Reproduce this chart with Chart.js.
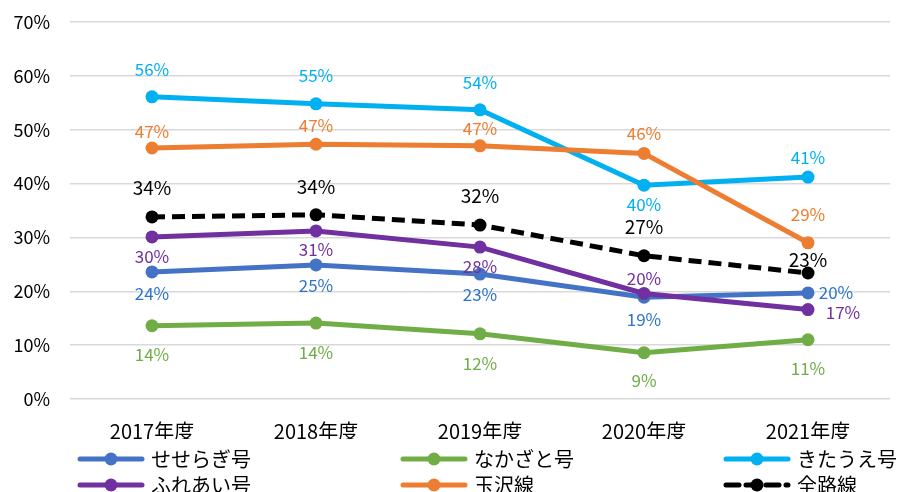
<!DOCTYPE html>
<html>
<head>
<meta charset="utf-8">
<script src="https://cdn.jsdelivr.net/npm/chart.js@4"></script>
<style>
  html, body { margin: 0; padding: 0; background: #fff; }
  #wrap { width: 904px; height: 492px; }
</style>
</head>
<body>
<div id="wrap"><canvas id="lineChart" width="904" height="492"></canvas></div>
<script>
// data (percent)
var years = ['2017年度', '2018年度', '2019年度', '2020年度', '2021年度'];
var seseragi = [23.6, 24.9, 23.2, 18.9, 19.7];
var nakazato = [13.6, 14.1, 12.1, 8.6, 11.0];
var kitaue = [56.1, 54.8, 53.7, 39.7, 41.2];
var fureai = [30.1, 31.2, 28.2, 19.6, 16.6];
var tamazawa = [46.6, 47.3, 47.0, 45.6, 29.0];
var zenrosen = [33.8, 34.2, 32.3, 26.6, 23.4];
var yTicks = [0, 10, 20, 30, 40, 50, 60, 70];

var jpFont = '"Noto Sans CJK JP", "Noto Sans", sans-serif';

// label offsets [dx, dy] from each point
var labelPos = [
  [[0, 22], [0, 21], [0, 20], [0, 22], [28, 0]],
  [[0, 29], [0, 29], [0, 30], [0, 28], [0, 29]],
  [[0, -27], [0, -28], [0, -27], [0, 19], [0, -20]],
  [[0, 20], [0, 19], [0, 19], [0, -15], [35, 3]],
  [[0, -16], [0, -19], [0, -17], [0, -20], [0, -28]],
  [[0, -29], [0, -28], [0, -29], [0, -29], [0, -13]]
];
var labelColors = ['#2E75C6', '#70AD47', '#00B0F0', '#7030A0', '#ED7D31', '#000000'];

function makeSet(label, data, color, idx, dash) {
  return {
    label: label,
    data: data,
    borderColor: color,
    backgroundColor: color,
    borderWidth: 5,
    borderDash: dash || [],
    pointRadius: 6.5,
    pointHoverRadius: 6.5,
    pointBorderWidth: 0,
    tension: 0,
    fill: false,
    order: 6 - idx
  };
}

// data labels
var labelPlugin = {
  id: 'valueLabels',
  afterDatasetsDraw: function(chart) {
    var ctx = chart.ctx;
    ctx.save();
    ctx.textAlign = 'center';
    ctx.textBaseline = 'middle';
    chart.data.datasets.forEach(function(ds, i) {
      var meta = chart.getDatasetMeta(i);
      ctx.fillStyle = labelColors[i];
      ctx.font = (i === 5 ? '19px ' : '17px ') + jpFont;
      meta.data.forEach(function(pt, j) {
        var off = labelPos[i][j];
        ctx.fillText(Math.round(ds.data[j]) + '%', pt.x + off[0], pt.y + off[1]);
      });
    });
    ctx.restore();
  }
};

// legend in 3 columns
var legendPlugin = {
  id: 'gridLegend',
  afterDraw: function(chart) {
    var ctx = chart.ctx;
    var colX = [80, 403, 726];
    var rowY = [459, 485];
    ctx.save();
    ctx.font = '20px ' + jpFont;
    ctx.textBaseline = 'middle';
    chart.data.datasets.forEach(function(ds, i) {
      var x = colX[i % 3];
      var y = rowY[Math.floor(i / 3)];
      ctx.strokeStyle = ds.borderColor;
      ctx.lineWidth = 5;
      ctx.lineCap = 'round';
      ctx.setLineDash(ds.borderDash);
      ctx.beginPath();
      ctx.moveTo(x, y);
      ctx.lineTo(x + 62, y);
      ctx.stroke();
      ctx.setLineDash([]);
      ctx.fillStyle = ds.borderColor;
      ctx.beginPath();
      ctx.arc(x + 31, y, 6.5, 0, Math.PI * 2);
      ctx.fill();
      ctx.fillStyle = '#000';
      ctx.fillText(ds.label, x + 71, y);
    });
    ctx.restore();
  }
};

document.addEventListener('DOMContentLoaded', function() {
  var ctx = document.getElementById('lineChart').getContext('2d');
  new Chart(ctx, {
    type: 'line',
    data: {
      labels: years,
      datasets: [
        makeSet('せせらぎ号', seseragi, '#4472C4', 0),
        makeSet('なかざと号', nakazato, '#70AD47', 1),
        makeSet('きたうえ号', kitaue, '#00B0F0', 2),
        makeSet('ふれあい号', fureai, '#7030A0', 3),
        makeSet('玉沢線', tamazawa, '#ED7D31', 4),
        makeSet('全路線', zenrosen, '#000000', 5, [13, 7])
      ]
    },
    options: {
      responsive: false,
      animation: false,
      layout: { padding: { top: 22, right: 14, bottom: 53, left: 0 } },
      plugins: {
        legend: { display: false },
        tooltip: { enabled: false }
      },
      scales: {
        x: {
          offset: true,
          grid: { display: false, drawTicks: false },
          border: { display: false },
          ticks: { color: '#000', padding: 20, font: { size: 20, family: jpFont } },
          afterFit: function(s) { s.height = 40; }
        },
        y: {
          min: 0,
          max: 70,
          afterBuildTicks: function(s) { s.ticks = yTicks.map(function(v) { return { value: v }; }); },
          grid: { color: '#D9D9D9', lineWidth: 1.5, drawTicks: false },
          border: { display: false },
          ticks: {
            color: '#000',
            padding: 20,
            font: { size: 18, family: jpFont },
            callback: function(v) { return v + '%'; }
          },
          afterFit: function(s) { s.width = 70; s.paddingTop = 0; s.paddingBottom = 0; }
        }
      }
    },
    plugins: [labelPlugin, legendPlugin]
  });
});
</script>
</body>
</html>
